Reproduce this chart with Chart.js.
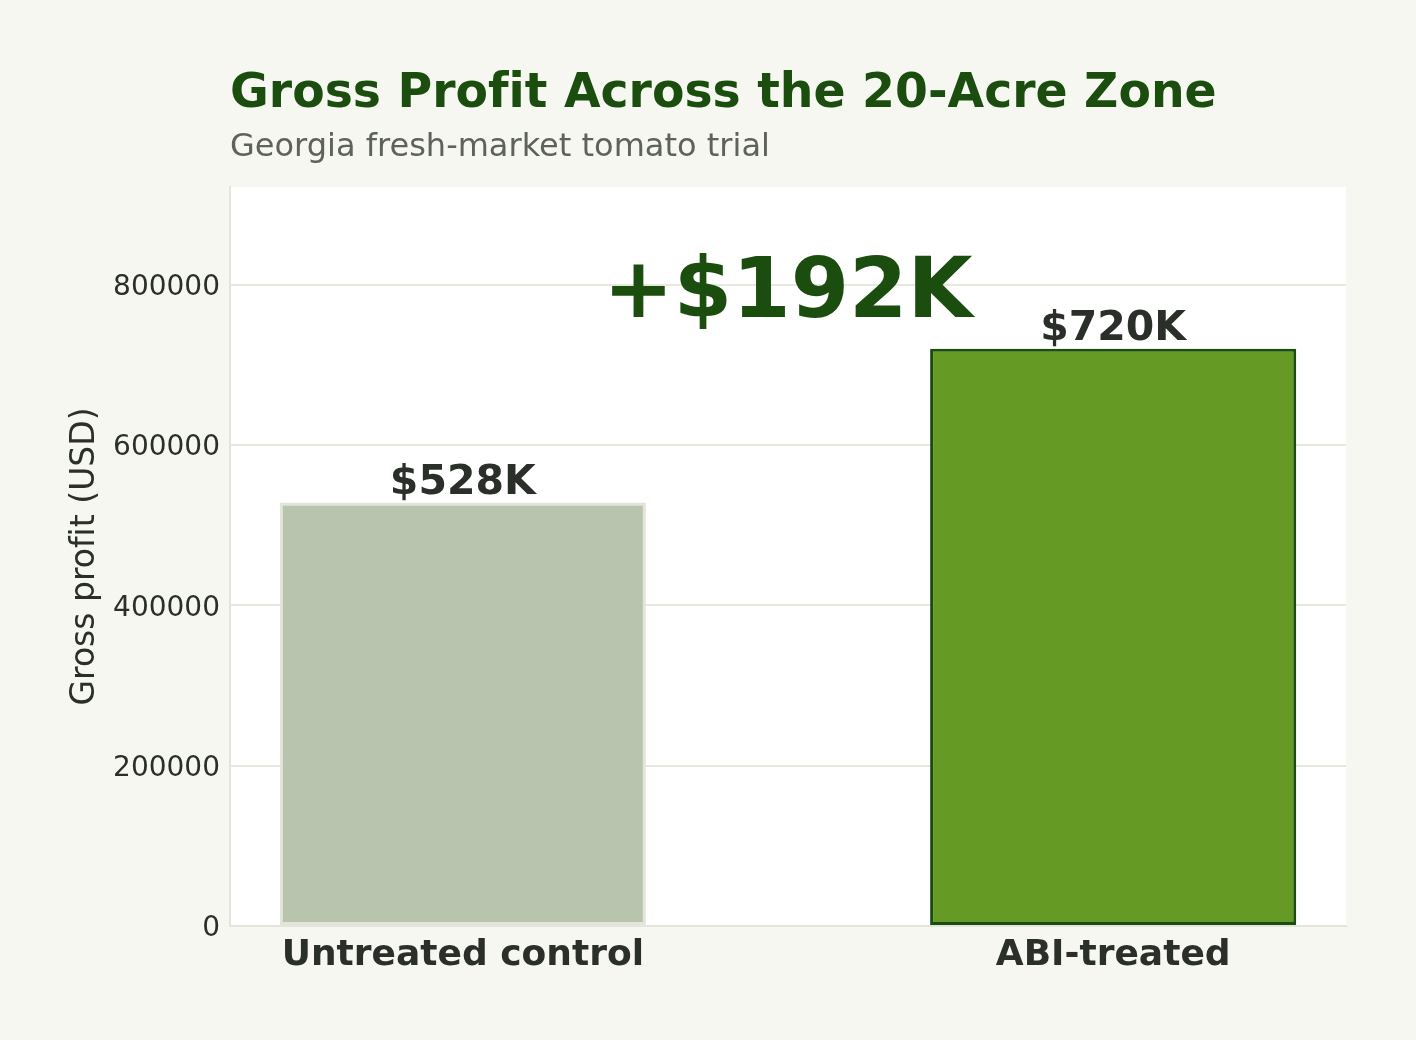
<!DOCTYPE html>
<html>
<head>
<meta charset="utf-8">
<script src="https://cdn.jsdelivr.net/npm/chart.js@4"></script>
<style>
  html, body { margin: 0; padding: 0; background: #f6f7f1; }
  #wrap { width: 1416px; height: 1040px; }
</style>
</head>
<body>
<div id="wrap"><canvas id="profitChart" width="1416" height="1040"></canvas></div>
<script>
// chart data
const categories = ["Untreated control", "ABI-treated"];
const profitValues = [528000, 720000];
const valueLabels = ["$528K", "$720K"];
const yTicks = [0, 200000, 400000, 600000, 800000];
const gainLabel = "+$192K";

const titleText = "Gross Profit Across the 20-Acre Zone";
const subtitleText = "Georgia fresh-market tomato trial";

const FONT = "'DejaVu Sans', sans-serif";
const darkGreen = "#1b4d0f";
const textDark = "#2b2f2a";

// headings above the plot
const headerPlugin = {
  id: "header",
  afterDraw(chart) {
    const ctx = chart.ctx;
    const left = chart.chartArea.left;
    ctx.save();
    ctx.textAlign = "left";
    ctx.textBaseline = "alphabetic";
    ctx.fillStyle = darkGreen;
    ctx.font = "bold 47.3px " + FONT;
    ctx.fillText(titleText, left, 107);
    ctx.fillStyle = "#5d625a";
    ctx.font = "32px " + FONT;
    ctx.fillText(subtitleText, left, 156);
    ctx.restore();
  },
};

// value labels over the bars and the big difference annotation
const labelPlugin = {
  id: "barLabels",
  afterDatasetsDraw(chart) {
    const ctx = chart.ctx;
    const meta = chart.getDatasetMeta(0);
    ctx.save();
    ctx.textAlign = "center";
    ctx.textBaseline = "alphabetic";
    ctx.fillStyle = textDark;
    ctx.font = "bold 41px " + FONT;
    meta.data.forEach((bar, i) => {
      ctx.fillText(valueLabels[i], bar.x, bar.y - 9);
    });

    const x = chart.scales.x.getPixelForValue(0.5);
    const y = chart.scales.y.getPixelForValue(760000);
    ctx.fillStyle = darkGreen;
    ctx.font = "bold 84px " + FONT;
    ctx.fillText(gainLabel, x, y);
    ctx.restore();
  },
};

// white plot area, and no ligatures so "fi" is drawn as two letters
const plotBg = {
  id: "plotBg",
  beforeDraw(chart) {
    const { ctx, chartArea } = chart;
    ctx.letterSpacing = "0.01px";
    ctx.save();
    ctx.fillStyle = "#ffffff";
    ctx.fillRect(chartArea.left, chartArea.top, chartArea.right - chartArea.left, chartArea.bottom - chartArea.top);
    ctx.restore();
  },
};

const ctx = document.getElementById("profitChart").getContext("2d");

new Chart(ctx, {
  type: "bar",
  data: {
    datasets: [
      {
        data: profitValues.map((v, i) => ({ x: i, y: v })),
        backgroundColor: ["#b9c4ae", "#659a24"],
        borderColor: ["#e3e5d9", darkGreen],
        borderWidth: [3, 3],
        borderSkipped: false,
        barPercentage: 0.563,
        categoryPercentage: 1,
      },
    ],
  },
  options: {
    responsive: false,
    animation: false,
    layout: { padding: { top: 187, right: 70, left: 0, bottom: 0 } },
    plugins: {
      legend: { display: false },
      tooltip: { enabled: false },
    },
    scales: {
      x: {
        type: "linear",
        offset: false,
        min: -0.358,
        max: 1.358,
        afterBuildTicks: (scale) => {
          scale.ticks = categories.map((_, i) => ({ value: i }));
        },
        afterFit: (scale) => {
          scale.height = 114;
        },
        ticks: {
          callback: (value) => categories[value],
          color: textDark,
          font: { family: FONT, size: 36, weight: "bold" },
          padding: 8,
          maxRotation: 0,
          autoSkip: false,
        },
        grid: { display: false, drawTicks: false, offset: false },
        border: { display: true, color: "#e3e5da", width: 2 },
      },
      y: {
        min: 0,
        max: 921600,
        afterBuildTicks: (scale) => {
          scale.ticks = yTicks.map((v) => ({ value: v }));
        },
        afterFit: (scale) => {
          scale.width = 230;
        },
        ticks: {
          callback: (value) => String(value),
          color: textDark,
          font: { family: FONT, size: 28 },
          padding: 10,
          labelOffset: 3,
        },
        grid: { color: "#e6e8de", lineWidth: 2, drawTicks: false },
        border: { display: true, color: "#e3e5da", width: 2 },
        title: {
          display: true,
          text: "Gross profit (USD)",
          color: textDark,
          font: { family: FONT, size: 33 },
          padding: { top: 66, bottom: 0 },
        },
      },
    },
  },
  plugins: [plotBg, labelPlugin, headerPlugin],
});
</script>
</body>
</html>
